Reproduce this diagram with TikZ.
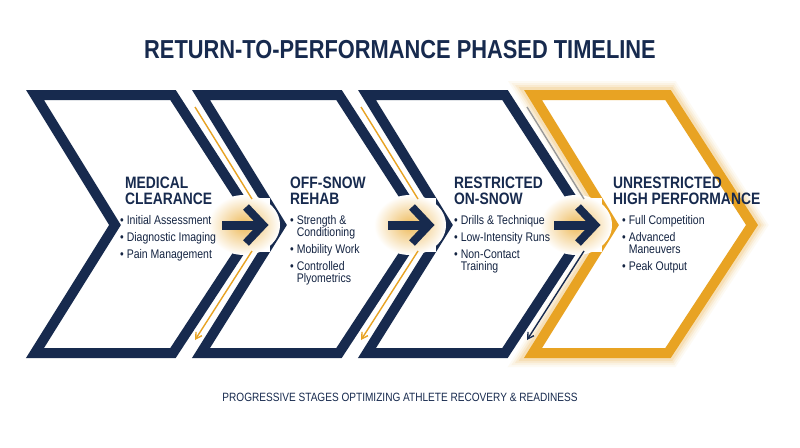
\documentclass[tikz,border=0pt]{standalone}
\usepackage{fontspec}
\setmainfont{Liberation Sans}[FakeStretch=0.84]
\usetikzlibrary{arrows.meta}
\definecolor{navy}{HTML}{172A4E}
\definecolor{gold}{HTML}{E8A323}
\begin{document}
\begin{tikzpicture}[x=1pt,y=-1pt,
  chev/.style={draw=navy,line width=10pt,fill=white,line join=miter},
  head/.style={anchor=north west,align=left,font=\bfseries\fontsize{16.5}{16}\selectfont,text=navy,inner sep=0},
  items/.style={anchor=north west,align=left,font=\fontsize{12.5}{12}\selectfont,text=navy!85!black,inner sep=0},
  thin/.style={gold,line width=1.4pt},
  tip/.style={-{Straight Barb[length=6pt,width=7pt]}},
  big/.style={navy,line width=8pt,line join=miter}]
\useasboundingbox (0,0) rectangle (800,447);
\fill[white] (0,0) rectangle (800,447);
\node[font=\bfseries\fontsize{26}{26}\selectfont,text=navy] (title) at (400,50) {RETURN-TO-PERFORMANCE PHASED TIMELINE};
\foreach \w/\o in {28/0.05,24/0.07,20/0.1,16/0.15}{
  \draw[gold,line width=\w pt,opacity=\o,line join=miter] (533,95)--(668,95)--(752,225)--(668,353)--(533,353)--(613,225)--cycle;}
\foreach \i in {0,1,2}{
  \pgfmathsetmacro\xo{35+166*\i}
  \draw[chev] (\xo,95)--(\xo+138,95)--(\xo+222,225)--(\xo+138,353)--(\xo,353)--(\xo+80,225)--cycle;}
\draw[chev,draw=gold] (533,95)--(668,95)--(752,225)--(668,353)--(533,353)--(613,225)--cycle;
\foreach \x in {222,388,554}{
  \fill[white] (\x+14,198) rectangle (\x+48,252);
  \shade[inner color=gold!75,outer color=white] (\x+22,225) ellipse (36 and 30);
}
\foreach \x in {222,388,554}{
  \fill[navy] (\x,220.5) rectangle (\x+36,229.5);
  \draw[big] (\x+24,207)--(\x+41,225)--(\x+24,243);}
\draw[thin] (195,107)--(252,199);
\draw[thin,tip] (252,251)--(195,340);
\draw[thin] (361,107)--(418,199);
\draw[thin,tip] (418,251)--(361,340);
\draw[thin,draw=gray!80] (527,107)--(584,199);
\draw[thin,draw=navy,tip] (584,251)--(527,340);
\node[head] (h1) at (125,177) {MEDICAL\\CLEARANCE};
\node[items] (b1) at (120,215) {\textbullet\ Initial Assessment\\[5pt]\textbullet\ Diagnostic Imaging\\[5pt]\textbullet\ Pain Management};
\node[head] (h2) at (290,177) {OFF-SNOW\\REHAB};
\node[items] (b2) at (290,215) {\textbullet\ Strength \&\\\phantom{\textbullet\ }Conditioning\\[5pt]\textbullet\ Mobility Work\\[5pt]\textbullet\ Controlled\\\phantom{\textbullet\ }Plyometrics};
\node[head] (h3) at (454,177) {RESTRICTED\\ON-SNOW};
\node[items] (b3) at (454,215) {\textbullet\ Drills \& Technique\\[5pt]\textbullet\ Low-Intensity Runs\\[5pt]\textbullet\ Non-Contact\\\phantom{\textbullet\ }Training};
\node[head] (h4) at (613,177) {UNRESTRICTED\\HIGH PERFORMANCE};
\node[items] (b4) at (622,215) {\textbullet\ Full Competition\\[5pt]\textbullet\ Advanced\\\phantom{\textbullet\ }Maneuvers\\[5pt]\textbullet\ Peak Output};
\node[font=\fontsize{12}{12}\selectfont,text=navy] (foot) at (400,397) {PROGRESSIVE STAGES OPTIMIZING ATHLETE RECOVERY \& READINESS};
\end{tikzpicture}
\end{document}
